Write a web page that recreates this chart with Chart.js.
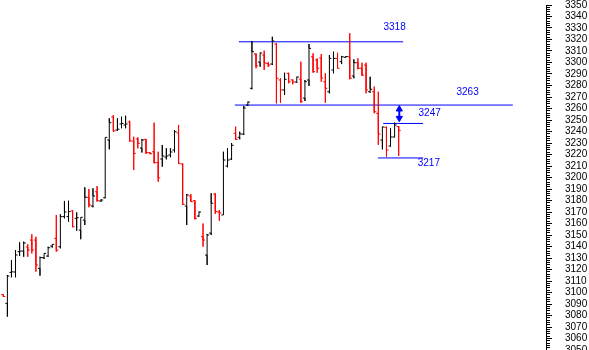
<!DOCTYPE html>
<html>
<head>
<meta charset="utf-8">
<script src="https://cdn.jsdelivr.net/npm/chart.js@4.4.1/dist/chart.umd.min.js"></script>
<style>
  html, body { margin: 0; padding: 0; background: #fff; overflow: hidden; }
  #wrap { width: 589px; height: 350px; }
</style>
</head>
<body>
<div id="wrap"><canvas id="chart" width="589" height="350"></canvas></div>
<script>
// daily OHLC, oldest first
const opens = [3098.2, 3090.6, 3117.5, 3117.8, 3135.5, 3136.1, 3139.6, 3145.6, 3145.6, 3121, 3130.3, 3131.7, 3140.4, 3147.1, 3139.8, 3166, 3166, 3170.9, 3164.5, 3154.3,
  3163, 3182.8, 3175.2, 3187.6, 3179.6, 3182.4, 3232.6, 3252.6, 3241.3, 3246.5, 3245.6, 3248.3, 3231.7, 3233.5, 3225.6, 3233.2, 3221.6, 3222.4, 3212.9, 3216.1,
  3217.8, 3219.6, 3223.9, 3238.7, 3211.7, 3175.2, 3183.9, 3179.8, 3166.5, 3148.5, 3132.6, 3151.7, 3185.6, 3170, 3167.4, 3210, 3216, 3238.4, 3235, 3237.8,
  3263, 3277.6, 3307.4, 3300.4, 3306.5, 3299.1, 3298.7, 3316.1, 3284.8, 3276.1, 3290.6, 3284.8, 3283, 3285.6, 3269.1, 3284.8, 3305, 3302.2, 3304, 3283.3,
  3274.6, 3293.5, 3303.6, 3300.7, 3304.5, 3305, 3288.3, 3299.8, 3295, 3297.8, 3274.6, 3274.6, 3255.8, 3232.6, 3243.6, 3227.4, 3235.2, 3244.3];
const highs = [3098.4, 3115.2, 3128.3, 3136.9, 3143.6, 3144.2, 3141.9, 3150.6, 3148.5, 3131.1, 3134, 3139.8, 3141.9, 3167.4, 3168, 3179.6, 3179.8, 3171.7, 3169.7, 3165.4,
  3191.5, 3190, 3190.6, 3192.6, 3181, 3234.9, 3251.5, 3254.3, 3251.5, 3252.9, 3253.7, 3249.4, 3235.5, 3234.9, 3233.5, 3233.5, 3221.9, 3247.7, 3222.4, 3228.3,
  3225.4, 3225.4, 3241.3, 3245.7, 3212.3, 3185.6, 3185.6, 3180.4, 3170.3, 3160, 3150.9, 3186.3, 3186.3, 3171.7, 3222.4, 3225.6, 3230, 3244.2, 3239.8, 3262.2,
  3265.9, 3318.7, 3308, 3308.5, 3310.3, 3300.4, 3322.4, 3316.7, 3286.3, 3291.1, 3291.1, 3285.4, 3287.6, 3300.7, 3284.8, 3316.1, 3308, 3303.6, 3307.4, 3290.6,
  3306.5, 3309.4, 3308.5, 3305.7, 3305.4, 3325.4, 3302.8, 3303.6, 3299.8, 3299.8, 3287.6, 3279, 3274.6, 3244.2, 3244.2, 3242.8, 3247.7, 3244.8];
const lows = [3096.3, 3079, 3113.2, 3113.2, 3131.7, 3131.1, 3131.1, 3134, 3118.1, 3114.6, 3129.1, 3131.1, 3139, 3135.5, 3138.4, 3164.5, 3161.6, 3156.7, 3153.7, 3146.3,
  3158.7, 3174.1, 3174.1, 3179, 3179, 3181.9, 3224.5, 3239.8, 3240.7, 3242.8, 3242.8, 3231.1, 3206.5, 3225.4, 3221.7, 3220.4, 3220.2, 3212.3, 3196.3, 3209.4,
  3215.8, 3217.6, 3221.9, 3211.7, 3176.1, 3158.7, 3179, 3163.6, 3166, 3139.8, 3123.9, 3150, 3168.3, 3162.4, 3167.4, 3208.9, 3215.2, 3232.6, 3233.2, 3237,
  3262.2, 3276.7, 3295, 3296.3, 3293.5, 3296.1, 3297.8, 3264.5, 3265, 3271.7, 3281.9, 3281, 3282.4, 3265, 3266.5, 3279.6, 3291.1, 3291.1, 3283.3, 3265,
  3273.2, 3290.6, 3295, 3298.7, 3304.2, 3285.4, 3286.3, 3294.1, 3288.3, 3273.2, 3273.7, 3255.8, 3228.3, 3224.5, 3218.1, 3226.8, 3235, 3218.7];
const closes = [3096.5, 3114.3, 3118, 3132.6, 3136, 3143, 3136.9, 3136.9, 3123.9, 3130.3, 3134, 3138.9, 3141.9, 3136.9, 3165.9, 3170, 3170.3, 3157.2, 3165, 3165.4,
  3182.8, 3176.1, 3183.9, 3179.8, 3180.4, 3234.9, 3247.7, 3240.4, 3242, 3247, 3246.5, 3231.7, 3221, 3229.7, 3232.6, 3221.6, 3220.7, 3212.9, 3199.6, 3218.7,
  3218.7, 3222.2, 3239.8, 3212.3, 3176.7, 3184.8, 3179, 3164.5, 3170, 3145.6, 3150, 3177.6, 3170.3, 3169.1, 3215.2, 3215.2, 3228, 3233.2, 3237.8, 3260.4,
  3265.6, 3309.4, 3297, 3308.3, 3299.6, 3297.8, 3318.7, 3286.3, 3276.1, 3285.4, 3283.3, 3283, 3287.4, 3265.9, 3283.3, 3312.3, 3292, 3295, 3286.5, 3277.6,
  3303.6, 3303.6, 3295, 3305, 3305.2, 3286.3, 3299.8, 3295, 3289.1, 3276.1, 3276.7, 3257.2, 3237.8, 3243.9, 3223.9, 3235.2, 3245.6, 3240.7];

// support / resistance levels drawn on the chart
const levels = [3318, 3263, 3247, 3217];
const levelFrom = [57.8, 56.8, 93.2, 91.9];   // bar index where each line starts
const levelTo = [98.1, 125.0, 103.0, 103.0];

// where the level numbers are written
const labelX = [96.0, 113.9, 104.6, 104.4];
const labelY = [3330.4, 3273.7, 3256.3, 3212.6];

const arrowX = 97.15;

function ohlcPath(up) {
  const pts = [];
  opens.forEach((o, i) => {
    if ((closes[i] >= o) !== up) return;
    pts.push({x: i - 0.5, y: o}, {x: i, y: o}, {x: i, y: highs[i]}, {x: i, y: lows[i]},
      {x: i, y: closes[i]}, {x: i + 0.5, y: closes[i]}, {x: i + 0.5, y: null});
  });
  return pts;
}

const levelPts = [];
levels.forEach((v, k) => {
  levelPts.push({x: levelFrom[k], y: v}, {x: levelTo[k], y: v}, {x: levelTo[k], y: null});
});

const blue = '#0000ff';

const levelLabels = {
  id: 'levelLabels',
  afterDatasetsDraw(chart) {
    const {ctx, scales: {x, y}} = chart;
    ctx.save();
    ctx.font = '10px "Liberation Sans", Arial, sans-serif';
    ctx.fillStyle = blue;
    ctx.textAlign = 'center';
    ctx.textBaseline = 'middle';
    levels.forEach((v, k) => {
      ctx.fillText(String(v), x.getPixelForValue(labelX[k]), y.getPixelForValue(labelY[k]));
    });
    ctx.restore();
  }
};

const chart = new Chart(document.getElementById('chart'), {
  type: 'line',
  data: {
    datasets: [
      {
        data: ohlcPath(true),
        borderColor: '#000000',
        borderWidth: 1,
        pointRadius: 0,
        spanGaps: false
      },
      {
        data: ohlcPath(false),
        borderColor: '#ff0000',
        borderWidth: 1,
        pointRadius: 0,
        spanGaps: false
      },
      {
        data: levelPts,
        borderColor: blue,
        borderWidth: 1,
        pointRadius: 0,
        spanGaps: false
      },
      {
        // double headed arrow between 3263 and 3247
        data: [{x: arrowX, y: levels[1] - 3.6}, {x: arrowX, y: levels[2] + 4.6}],
        borderColor: blue,
        borderWidth: 2,
        pointStyle: 'triangle',
        pointRadius: 3.6,
        pointRotation: [0, 180],
        pointBackgroundColor: blue,
        pointBorderColor: blue,
        pointBorderWidth: 1
      }
    ]
  },
  options: {
    responsive: false,
    animation: false,
    devicePixelRatio: 1,
    events: [],
    layout: { autoPadding: false, padding: { top: 5, left: 0, right: 0, bottom: 0 } },
    plugins: { legend: { display: false }, tooltip: { enabled: false } },
    elements: { line: { tension: 0 } },
    scales: {
      x: {
        type: 'linear',
        display: false,
        min: -0.81,
        max: 133.14
      },
      y: {
        type: 'linear',
        position: 'right',
        min: 3050,
        max: 3350,
        afterFit(scale) {
          scale.width = 43;
          scale.paddingTop = 0;
          scale.paddingBottom = 0;
        },
        ticks: {
          stepSize: 2,
          autoSkip: false,
          maxTicksLimit: 1000,
          padding: 13,
          color: '#000000',
          font: { family: '"Liberation Sans", Arial, sans-serif', size: 10 },
          callback: v => (v % 10 === 0 ? String(v) : '')
        },
        grid: {
          drawOnChartArea: false,
          tickLength: 6,
          tickColor: '#000000',
          tickWidth: 1,
          tickBorderDash: ctx => (ctx.tick && ctx.tick.value % 10 !== 0 ? [3, 20] : [])
        },
        border: { display: true, color: '#000000', width: 1 }
      }
    }
  },
  plugins: [levelLabels]
});
</script>
</body>
</html>
